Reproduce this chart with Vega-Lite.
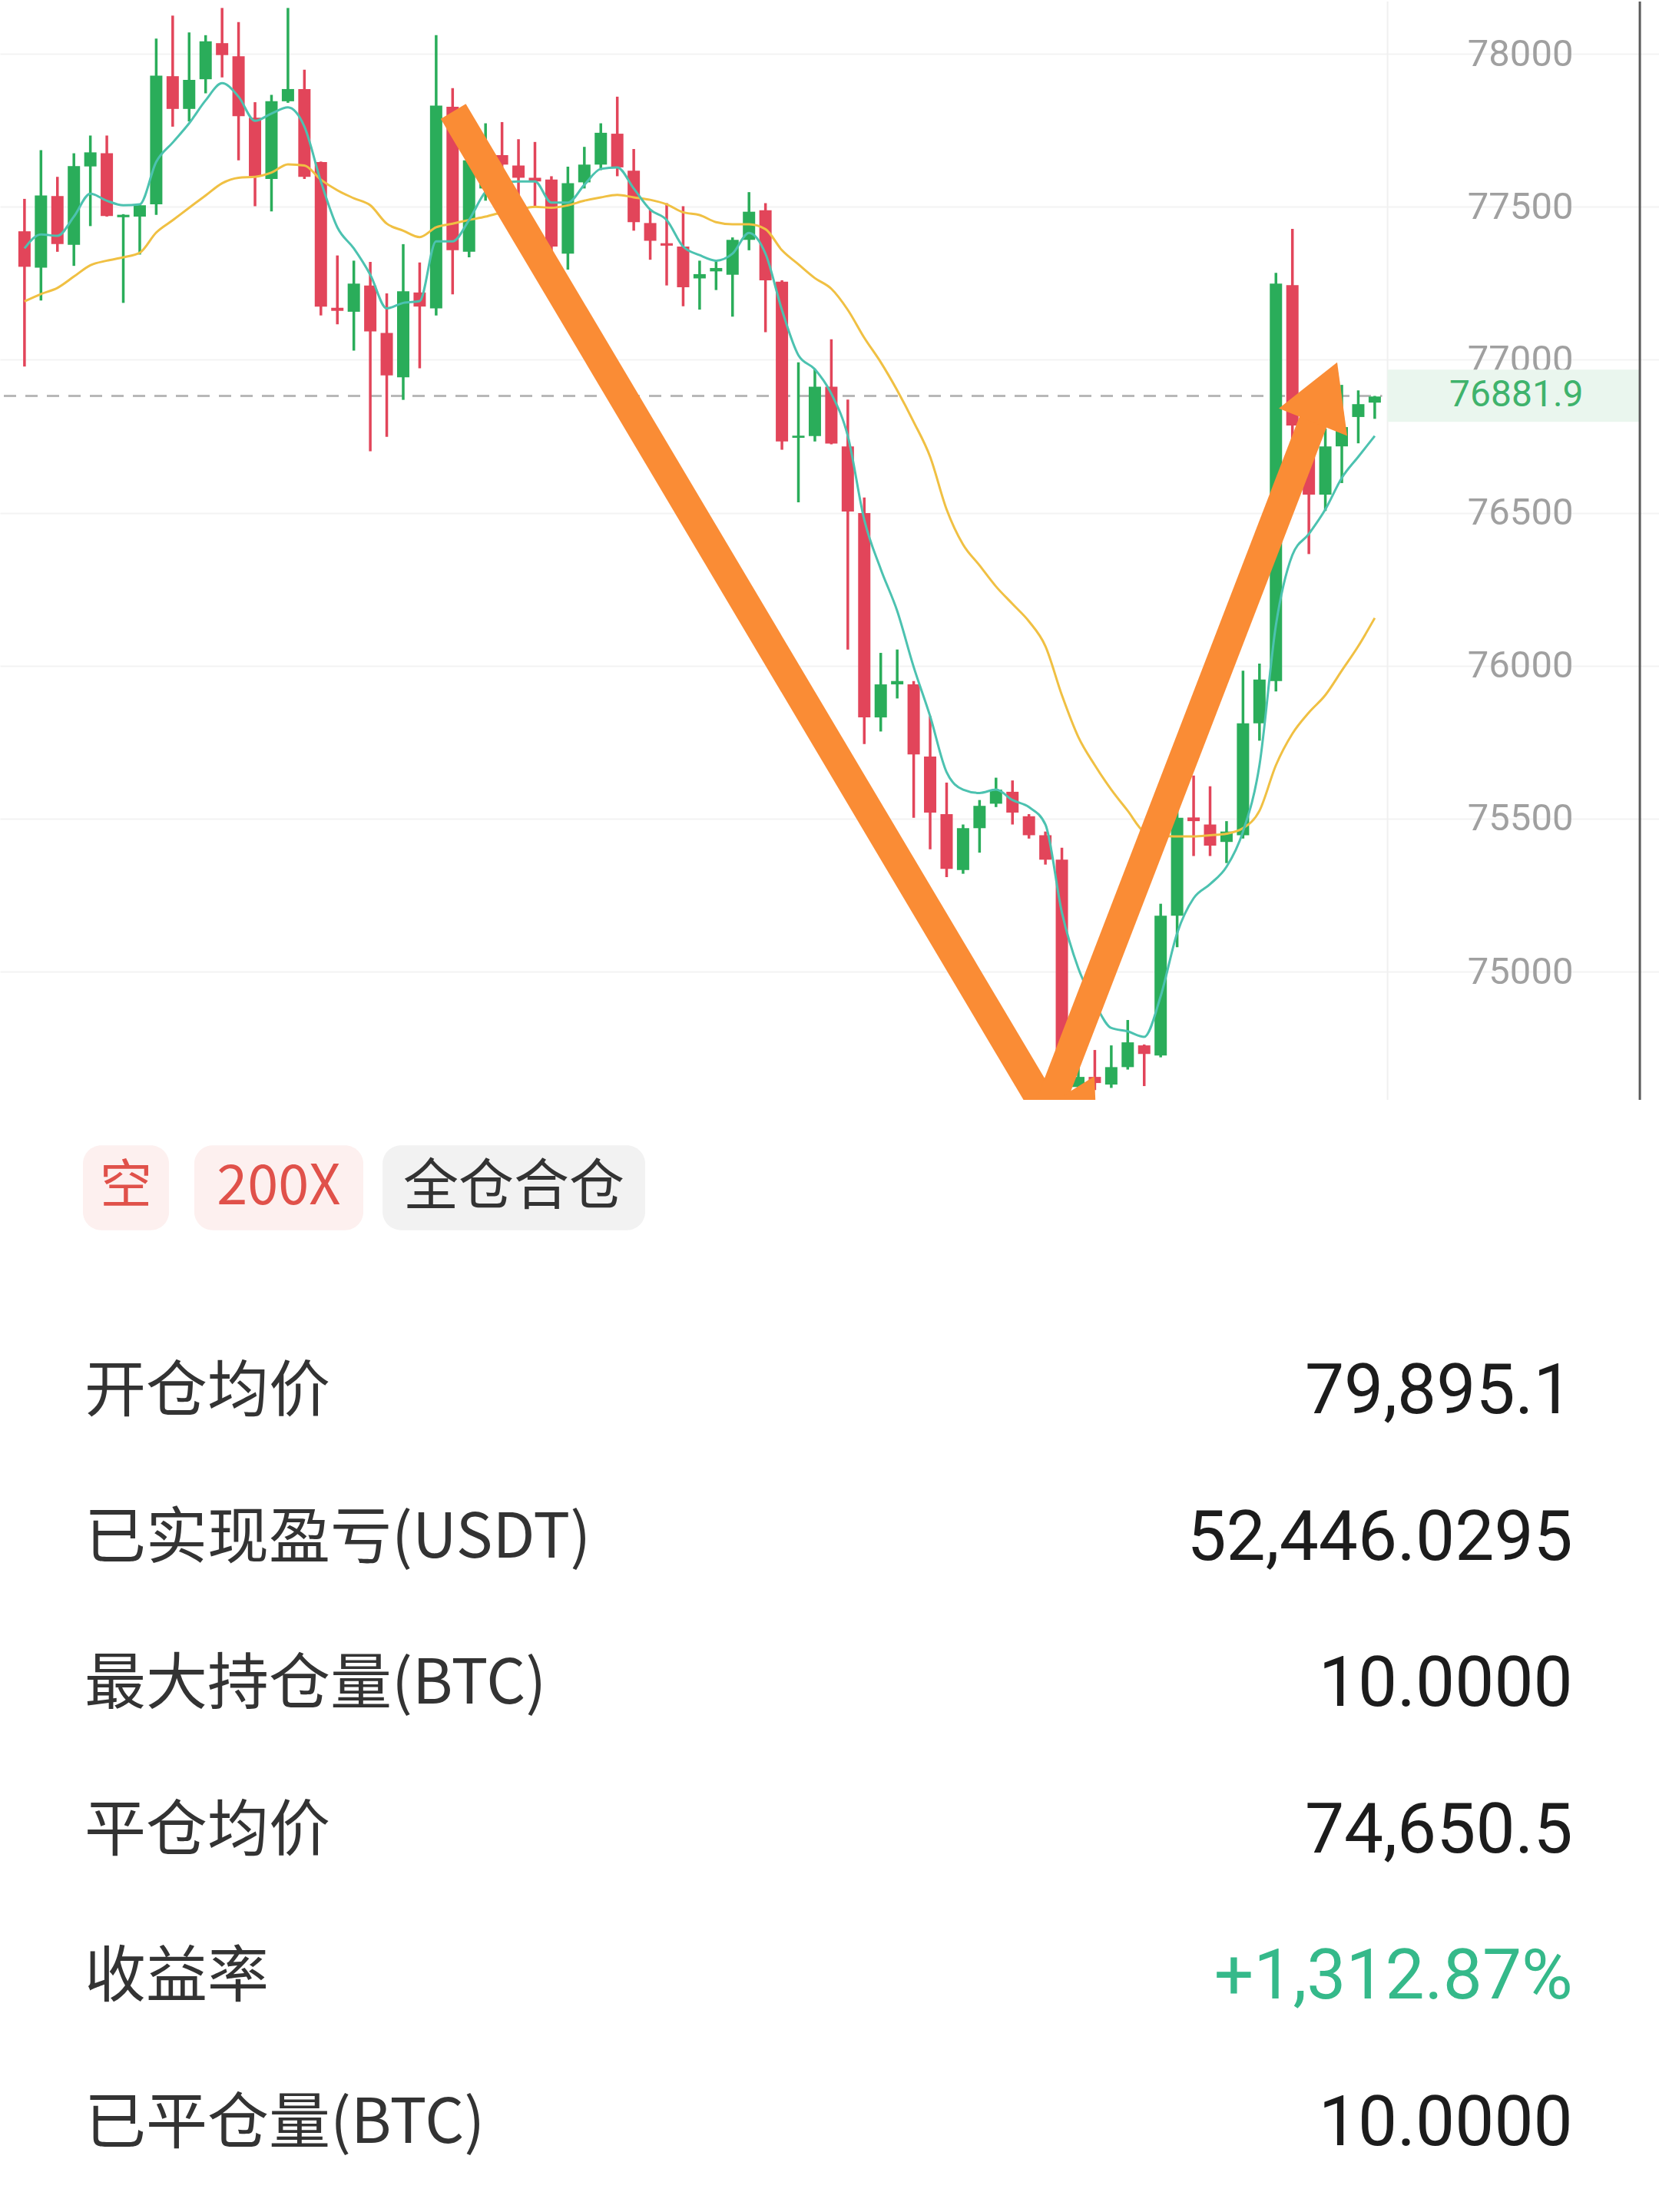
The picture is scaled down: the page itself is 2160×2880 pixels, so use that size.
{
  "$schema": "https://vega.github.io/schema/vega-lite/v6.json",
  "padding": 0,
  "spacing": 0,
  "background": "white",
  "config": {"view": {"stroke": null}, "font": "Noto Sans CJK SC"},
  "datasets": {
    "candles": [
      {"i":1,"o":77420,"h":77526,"l":76978,"c":77304,"m1":77364,"m2":77191},
      {"i":2,"o":77301,"h":77685,"l":77194,"c":77537,"m1":77410,"m2":77215},
      {"i":3,"o":77535,"h":77598,"l":77353,"c":77378,"m1":77405,"m2":77235},
      {"i":4,"o":77376,"h":77675,"l":77307,"c":77633,"m1":77468,"m2":77272},
      {"i":5,"o":77632,"h":77733,"l":77437,"c":77678,"m1":77543,"m2":77309},
      {"i":6,"o":77675,"h":77733,"l":77468,"c":77470,"m1":77520,"m2":77324},
      {"i":7,"o":77466,"h":77476,"l":77186,"c":77474,"m1":77505,"m2":77335},
      {"i":8,"o":77468,"h":77510,"l":77344,"c":77505,"m1":77508,"m2":77350},
      {"i":9,"o":77508,"h":78050,"l":77474,"c":77929,"m1":77647,"m2":77416},
      {"i":10,"o":77927,"h":78125,"l":77762,"c":77820,"m1":77710,"m2":77456},
      {"i":11,"o":77820,"h":78070,"l":77779,"c":77915,"m1":77773,"m2":77497},
      {"i":12,"o":77917,"h":78061,"l":77871,"c":78041,"m1":77848,"m2":77537},
      {"i":13,"o":78035,"h":78150,"l":77923,"c":77996,"m1":77904,"m2":77577},
      {"i":14,"o":77992,"h":78104,"l":77652,"c":77796,"m1":77860,"m2":77595},
      {"i":15,"o":77791,"h":77842,"l":77502,"c":77600,"m1":77781,"m2":77598},
      {"i":16,"o":77591,"h":77866,"l":77485,"c":77845,"m1":77805,"m2":77612},
      {"i":17,"o":77845,"h":78150,"l":77840,"c":77885,"m1":77825,"m2":77639},
      {"i":18,"o":77885,"h":77948,"l":77591,"c":77598,"m1":77762,"m2":77635},
      {"i":19,"o":77646,"h":77648,"l":77145,"c":77174,"m1":77583,"m2":77589},
      {"i":20,"o":77170,"h":77341,"l":77116,"c":77160,"m1":77433,"m2":77554},
      {"i":21,"o":77157,"h":77324,"l":77030,"c":77249,"m1":77364,"m2":77528},
      {"i":22,"o":77243,"h":77320,"l":76701,"c":77093,"m1":77278,"m2":77505},
      {"i":23,"o":77088,"h":77217,"l":76748,"c":76949,"m1":77168,"m2":77445},
      {"i":24,"o":76943,"h":77378,"l":76869,"c":77224,"m1":77186,"m2":77422},
      {"i":25,"o":77220,"h":77318,"l":76972,"c":77174,"m1":77192,"m2":77401},
      {"i":26,"o":77168,"h":78061,"l":77145,"c":77831,"m1":77387,"m2":77433},
      {"i":27,"o":77827,"h":77888,"l":77214,"c":77358,"m1":77387,"m2":77445},
      {"i":28,"o":77353,"h":77660,"l":77335,"c":77652,"m1":77457,"m2":77457},
      {"i":29,"o":77560,"h":77773,"l":77520,"c":77640,"m1":77549,"m2":77468},
      {"i":30,"o":77669,"h":77777,"l":77560,"c":77638,"m1":77578,"m2":77482},
      {"i":31,"o":77635,"h":77721,"l":77520,"c":77595,"m1":77583,"m2":77491},
      {"i":32,"o":77595,"h":77712,"l":77500,"c":77583,"m1":77583,"m2":77500},
      {"i":33,"o":77589,"h":77600,"l":77330,"c":77370,"m1":77514,"m2":77497},
      {"i":34,"o":77347,"h":77631,"l":77295,"c":77577,"m1":77514,"m2":77505},
      {"i":35,"o":77580,"h":77696,"l":77560,"c":77638,"m1":77572,"m2":77520},
      {"i":36,"o":77638,"h":77773,"l":77620,"c":77742,"m1":77624,"m2":77531},
      {"i":37,"o":77739,"h":77860,"l":77600,"c":77629,"m1":77629,"m2":77539},
      {"i":38,"o":77618,"h":77689,"l":77422,"c":77450,"m1":77560,"m2":77531},
      {"i":39,"o":77447,"h":77491,"l":77327,"c":77389,"m1":77491,"m2":77523},
      {"i":40,"o":77381,"h":77512,"l":77243,"c":77373,"m1":77457,"m2":77508},
      {"i":41,"o":77370,"h":77502,"l":77175,"c":77237,"m1":77370,"m2":77482},
      {"i":42,"o":77266,"h":77324,"l":77164,"c":77280,"m1":77342,"m2":77473},
      {"i":43,"o":77289,"h":77324,"l":77228,"c":77300,"m1":77324,"m2":77450},
      {"i":44,"o":77278,"h":77400,"l":77141,"c":77392,"m1":77347,"m2":77443},
      {"i":45,"o":77392,"h":77548,"l":77358,"c":77484,"m1":77415,"m2":77443},
      {"i":46,"o":77489,"h":77512,"l":77090,"c":77260,"m1":77347,"m2":77427},
      {"i":47,"o":77255,"h":77260,"l":76706,"c":76733,"m1":77163,"m2":77358},
      {"i":48,"o":76745,"h":76992,"l":76534,"c":76752,"m1":77015,"m2":77312},
      {"i":49,"o":76751,"h":76969,"l":76733,"c":76912,"m1":76969,"m2":77267},
      {"i":50,"o":76912,"h":77067,"l":76724,"c":76726,"m1":76889,"m2":77232},
      {"i":51,"o":76717,"h":76870,"l":76053,"c":76504,"m1":76751,"m2":77163},
      {"i":52,"o":76499,"h":76550,"l":75744,"c":75831,"m1":76477,"m2":77072},
      {"i":53,"o":75831,"h":76042,"l":75785,"c":75939,"m1":76316,"m2":76992},
      {"i":54,"o":75939,"h":76053,"l":75893,"c":75950,"m1":76179,"m2":76900},
      {"i":55,"o":75939,"h":75950,"l":75503,"c":75710,"m1":75996,"m2":76797},
      {"i":56,"o":75703,"h":75835,"l":75400,"c":75520,"m1":75835,"m2":76683},
      {"i":57,"o":75515,"h":75618,"l":75309,"c":75336,"m1":75652,"m2":76511},
      {"i":58,"o":75332,"h":75481,"l":75320,"c":75469,"m1":75595,"m2":76396},
      {"i":59,"o":75469,"h":75561,"l":75389,"c":75542,"m1":75584,"m2":76328},
      {"i":60,"o":75549,"h":75634,"l":75538,"c":75595,"m1":75595,"m2":76259},
      {"i":61,"o":75588,"h":75625,"l":75481,"c":75520,"m1":75561,"m2":76202},
      {"i":62,"o":75508,"h":75515,"l":75435,"c":75446,"m1":75538,"m2":76145},
      {"i":63,"o":75446,"h":75458,"l":75350,"c":75366,"m1":75481,"m2":76064},
      {"i":64,"o":75366,"h":75405,"l":74600,"c":74700,"m1":75194,"m2":75904},
      {"i":65,"o":74623,"h":74719,"l":74600,"c":74656,"m1":75011,"m2":75767},
      {"i":66,"o":74656,"h":74744,"l":74613,"c":74636,"m1":74897,"m2":75675},
      {"i":67,"o":74631,"h":74759,"l":74620,"c":74688,"m1":74816,"m2":75595},
      {"i":68,"o":74688,"h":74842,"l":74680,"c":74769,"m1":74805,"m2":75526},
      {"i":69,"o":74759,"h":74762,"l":74626,"c":74731,"m1":74787,"m2":75458},
      {"i":70,"o":74726,"h":75222,"l":74720,"c":75183,"m1":74920,"m2":75446},
      {"i":71,"o":75183,"h":75572,"l":75080,"c":75503,"m1":75126,"m2":75442},
      {"i":72,"o":75504,"h":75641,"l":75378,"c":75492,"m1":75240,"m2":75442},
      {"i":73,"o":75481,"h":75606,"l":75378,"c":75412,"m1":75286,"m2":75446},
      {"i":74,"o":75424,"h":75492,"l":75355,"c":75458,"m1":75343,"m2":75451},
      {"i":75,"o":75446,"h":75984,"l":75435,"c":75812,"m1":75458,"m2":75469},
      {"i":76,"o":75812,"h":76007,"l":75755,"c":75955,"m1":75675,"m2":75526},
      {"i":77,"o":75950,"h":77284,"l":75916,"c":77249,"m1":76133,"m2":75675},
      {"i":78,"o":77244,"h":77428,"l":76700,"c":76785,"m1":76362,"m2":75778},
      {"i":79,"o":76707,"h":76760,"l":76365,"c":76559,"m1":76431,"m2":75847},
      {"i":80,"o":76559,"h":76775,"l":76506,"c":76717,"m1":76511,"m2":75904},
      {"i":81,"o":76717,"h":76918,"l":76597,"c":76780,"m1":76614,"m2":75984},
      {"i":82,"o":76813,"h":76900,"l":76727,"c":76855,"m1":76683,"m2":76064},
      {"i":83,"o":76860,"h":76882,"l":76807,"c":76880,"m1":76751,"m2":76156}
    ],
    "arrows": [
      {"seg":"down","i":27.04,"p":77812},
      {"seg":"down","i":63.12,"p":74543},
      {"seg":"up","i":63.12,"p":74543},
      {"seg":"up","i":79.6,"p":76845}
    ],
    "rows": [
      {"r":1,"label":"开仓均价","value":"79,895.1"},
      {"r":2,"label":"已实现盈亏(USDT)","value":"52,446.0295"},
      {"r":3,"label":"最大持仓量(BTC)","value":"10.0000"},
      {"r":4,"label":"平仓均价","value":"74,650.5"},
      {"r":5,"label":"收益率","value":"+1,312.87%"},
      {"r":6,"label":"已平仓量(BTC)","value":"10.0000"}
    ]
  },
  "vconcat": [
    {
      "width": 2160,
      "height": 1430,
      "layer": [
        {
          "data": {"values": [{"p": 76881.9}]},
          "mark": {"type": "rule", "color": "#b8b8b8", "strokeWidth": 3, "strokeDash": [16, 12]},
          "encoding": {
            "x": {"datum": -0.254, "type": "quantitative", "scale": {"domain": [-0.254, 100.03], "nice": false, "zero": false}, "axis": null},
            "x2": {"datum": 83.45},
            "y": {"field": "p", "type": "quantitative", "scale": {"domain": [74581, 78171], "nice": false, "zero": false},
              "axis": {"orient": "right", "values": [75000, 75500, 76000, 76500, 77000, 77500, 78000], "format": "d", "grid": true, "gridColor": "#f3f3f3", "gridWidth": 2, "ticks": false, "domain": false, "labelPadding": -112, "labelAlign": "right", "labelBaseline": "middle", "labelFontSize": 49, "labelColor": "#a0a0a0", "labelFont": "Roboto", "labelOverlap": false, "labelFlush": false, "title": null}}
          }
        },
        {
          "data": {"values": [{"v": 1}]},
          "mark": {"type": "rule", "color": "#f0f0f0", "strokeWidth": 2},
          "encoding": {
            "x": {"datum": 83.78, "type": "quantitative", "scale": {"domain": [-0.254, 100.03], "nice": false, "zero": false}, "axis": null},
            "y": {"datum": 74581, "type": "quantitative", "scale": {"domain": [74581, 78171], "nice": false, "zero": false}},
            "y2": {"datum": 78171}
          }
        },
        {
          "data": {"name": "candles"},
          "mark": {"type": "rule", "strokeWidth": 3.5, "clip": true},
          "encoding": {
            "x": {"field": "i", "type": "quantitative", "scale": {"domain": [-0.254, 100.03], "nice": false, "zero": false}, "axis": null},
            "y": {"field": "l", "type": "quantitative", "scale": {"domain": [74581, 78171], "nice": false, "zero": false}},
            "y2": {"field": "h"},
            "color": {"condition": {"test": "datum.c >= datum.o", "value": "#2aad5a"}, "value": "#e2455a"}
          }
        },
        {
          "data": {"name": "candles"},
          "mark": {"type": "bar", "width": 16, "orient": "vertical", "clip": true},
          "encoding": {
            "x": {"field": "i", "type": "quantitative", "scale": {"domain": [-0.254, 100.03], "nice": false, "zero": false}, "axis": null},
            "y": {"field": "o", "type": "quantitative", "scale": {"domain": [74581, 78171], "nice": false, "zero": false}},
            "y2": {"field": "c"},
            "color": {"condition": {"test": "datum.c >= datum.o", "value": "#2aad5a"}, "value": "#e2455a"}
          }
        },
        {
          "data": {"name": "candles"},
          "mark": {"type": "line", "color": "#f0c043", "strokeWidth": 3, "interpolate": "monotone", "clip": true},
          "encoding": {
            "x": {"field": "i", "type": "quantitative", "scale": {"domain": [-0.254, 100.03], "nice": false, "zero": false}, "axis": null},
            "y": {"field": "m2", "type": "quantitative", "scale": {"domain": [74581, 78171], "nice": false, "zero": false}}
          }
        },
        {
          "data": {"name": "candles"},
          "mark": {"type": "line", "color": "#4cc2b0", "strokeWidth": 3, "interpolate": "monotone", "clip": true},
          "encoding": {
            "x": {"field": "i", "type": "quantitative", "scale": {"domain": [-0.254, 100.03], "nice": false, "zero": false}, "axis": null},
            "y": {"field": "m1", "type": "quantitative", "scale": {"domain": [74581, 78171], "nice": false, "zero": false}}
          }
        },
        {
          "data": {"name": "arrows"},
          "mark": {"type": "line", "color": "#fa8c35", "strokeWidth": 38, "strokeCap": "butt", "strokeJoin": "miter", "clip": true},
          "encoding": {
            "x": {"field": "i", "type": "quantitative", "scale": {"domain": [-0.254, 100.03], "nice": false, "zero": false}, "axis": null},
            "y": {"field": "p", "type": "quantitative", "scale": {"domain": [74581, 78171], "nice": false, "zero": false}},
            "detail": {"field": "seg"}
          }
        },
        {
          "data": {"values": [{"i": 79.88, "p": 76880}]},
          "mark": {"type": "point", "shape": "M0,-1L1,0.75L-1,0.75Z", "size": 9216, "filled": true, "opacity": 1, "color": "#fa8c35", "angle": 22, "clip": true},
          "encoding": {
            "x": {"field": "i", "type": "quantitative", "scale": {"domain": [-0.254, 100.03], "nice": false, "zero": false}, "axis": null},
            "y": {"field": "p", "type": "quantitative", "scale": {"domain": [74581, 78171], "nice": false, "zero": false}}
          }
        },
        {
          "data": {"values": [{"i": 64.97, "p": 74518}]},
          "mark": {"type": "point", "shape": "M0,-1L1,0.75L-1,0.75Z", "size": 9216, "filled": true, "opacity": 1, "color": "#fa8c35", "angle": 148, "clip": true},
          "encoding": {
            "x": {"field": "i", "type": "quantitative", "scale": {"domain": [-0.254, 100.03], "nice": false, "zero": false}, "axis": null},
            "y": {"field": "p", "type": "quantitative", "scale": {"domain": [74581, 78171], "nice": false, "zero": false}}
          }
        },
        {
          "data": {"values": [{"v": 1}]},
          "mark": {"type": "rect", "color": "#eaf6ee"},
          "encoding": {
            "x": {"datum": 83.78, "type": "quantitative", "scale": {"domain": [-0.254, 100.03], "nice": false, "zero": false}, "axis": null},
            "x2": {"datum": 99.1},
            "y": {"datum": 76968, "type": "quantitative", "scale": {"domain": [74581, 78171], "nice": false, "zero": false}},
            "y2": {"datum": 76797}
          }
        },
        {
          "data": {"values": [{"p": 76881.9, "label": "76881.9"}]},
          "mark": {"type": "text", "font": "Roboto", "fontSize": 48, "color": "#3fb36c", "align": "center", "baseline": "middle"},
          "encoding": {
            "x": {"datum": 91.6, "type": "quantitative", "scale": {"domain": [-0.254, 100.03], "nice": false, "zero": false}, "axis": null},
            "y": {"field": "p", "type": "quantitative", "scale": {"domain": [74581, 78171], "nice": false, "zero": false}},
            "text": {"field": "label"}
          }
        },
        {
          "data": {"values": [{"v": 1}]},
          "mark": {"type": "rule", "color": "#5a5a5a", "strokeWidth": 3},
          "encoding": {
            "x": {"datum": 99.1, "type": "quantitative", "scale": {"domain": [-0.254, 100.03], "nice": false, "zero": false}, "axis": null},
            "y": {"datum": 74581, "type": "quantitative", "scale": {"domain": [74581, 78171], "nice": false, "zero": false}},
            "y2": {"datum": 78171}
          }
        }
      ]
    },
    {
      "width": 2160,
      "height": 1450,
      "layer": [
        {
          "data": {"values": [{"tag": "空"}]},
          "mark": {"type": "rect", "color": "#fdf0ef", "cornerRadius": 24},
          "encoding": {
            "x": {"datum": 5.0, "type": "quantitative", "scale": {"domain": [0, 100], "nice": false, "zero": false}, "axis": null},
            "x2": {"datum": 10.19},
            "y": {"datum": -0.69, "type": "quantitative", "scale": {"domain": [-0.99, 6.62], "nice": false, "zero": false, "reverse": true}, "axis": null},
            "y2": {"datum": -0.11}
          }
        },
        {
          "data": {"values": [{"tag": "200X"}]},
          "mark": {"type": "rect", "color": "#fdf0ef", "cornerRadius": 24},
          "encoding": {
            "x": {"datum": 11.71, "type": "quantitative", "scale": {"domain": [0, 100], "nice": false, "zero": false}, "axis": null},
            "x2": {"datum": 21.9},
            "y": {"datum": -0.69, "type": "quantitative", "scale": {"domain": [-0.99, 6.62], "nice": false, "zero": false, "reverse": true}, "axis": null},
            "y2": {"datum": -0.11}
          }
        },
        {
          "data": {"values": [{"tag": "全仓合仓"}]},
          "mark": {"type": "rect", "color": "#f2f2f2", "cornerRadius": 24},
          "encoding": {
            "x": {"datum": 23.06, "type": "quantitative", "scale": {"domain": [0, 100], "nice": false, "zero": false}, "axis": null},
            "x2": {"datum": 38.89},
            "y": {"datum": -0.69, "type": "quantitative", "scale": {"domain": [-0.99, 6.62], "nice": false, "zero": false, "reverse": true}, "axis": null},
            "y2": {"datum": -0.11}
          }
        },
        {
          "data": {"values": [{"tag": "空"}]},
          "mark": {"type": "text", "fontSize": 68, "color": "#e0514a", "align": "center", "baseline": "middle"},
          "encoding": {
            "x": {"datum": 7.59, "type": "quantitative", "scale": {"domain": [0, 100], "nice": false, "zero": false}, "axis": null},
            "y": {"datum": -0.40, "type": "quantitative", "scale": {"domain": [-0.99, 6.62], "nice": false, "zero": false, "reverse": true}, "axis": null},
            "text": {"field": "tag"}
          }
        },
        {
          "data": {"values": [{"tag": "200X"}]},
          "mark": {"type": "text", "fontSize": 72, "color": "#e0514a", "align": "center", "baseline": "middle"},
          "encoding": {
            "x": {"datum": 16.8, "type": "quantitative", "scale": {"domain": [0, 100], "nice": false, "zero": false}, "axis": null},
            "y": {"datum": -0.40, "type": "quantitative", "scale": {"domain": [-0.99, 6.62], "nice": false, "zero": false, "reverse": true}, "axis": null},
            "text": {"field": "tag"}
          }
        },
        {
          "data": {"values": [{"tag": "全仓合仓"}]},
          "mark": {"type": "text", "fontSize": 72, "color": "#333333", "align": "center", "baseline": "middle"},
          "encoding": {
            "x": {"datum": 30.97, "type": "quantitative", "scale": {"domain": [0, 100], "nice": false, "zero": false}, "axis": null},
            "y": {"datum": -0.40, "type": "quantitative", "scale": {"domain": [-0.99, 6.62], "nice": false, "zero": false, "reverse": true}, "axis": null},
            "text": {"field": "tag"}
          }
        },
        {
          "data": {"name": "rows"},
          "mark": {"type": "text", "fontSize": 80, "color": "#333333", "align": "left", "baseline": "middle"},
          "encoding": {
            "x": {"datum": 5.09, "type": "quantitative", "scale": {"domain": [0, 100], "nice": false, "zero": false}, "axis": null},
            "y": {"field": "r", "type": "quantitative", "scale": {"domain": [-0.99, 6.62], "nice": false, "zero": false, "reverse": true}, "axis": null},
            "text": {"field": "label"}
          }
        },
        {
          "data": {"name": "rows"},
          "mark": {"type": "text", "fontSize": 91, "font": "Roboto", "align": "right", "baseline": "middle"},
          "encoding": {
            "x": {"datum": 94.8, "type": "quantitative", "scale": {"domain": [0, 100], "nice": false, "zero": false}, "axis": null},
            "y": {"field": "r", "type": "quantitative", "scale": {"domain": [-0.99, 6.62], "nice": false, "zero": false, "reverse": true}, "axis": null},
            "text": {"field": "value"},
            "color": {"condition": {"test": "indexof(datum.value, '+') === 0", "value": "#35b98a"}, "value": "#1c1c1c"}
          }
        }
      ]
    }
  ]
}
